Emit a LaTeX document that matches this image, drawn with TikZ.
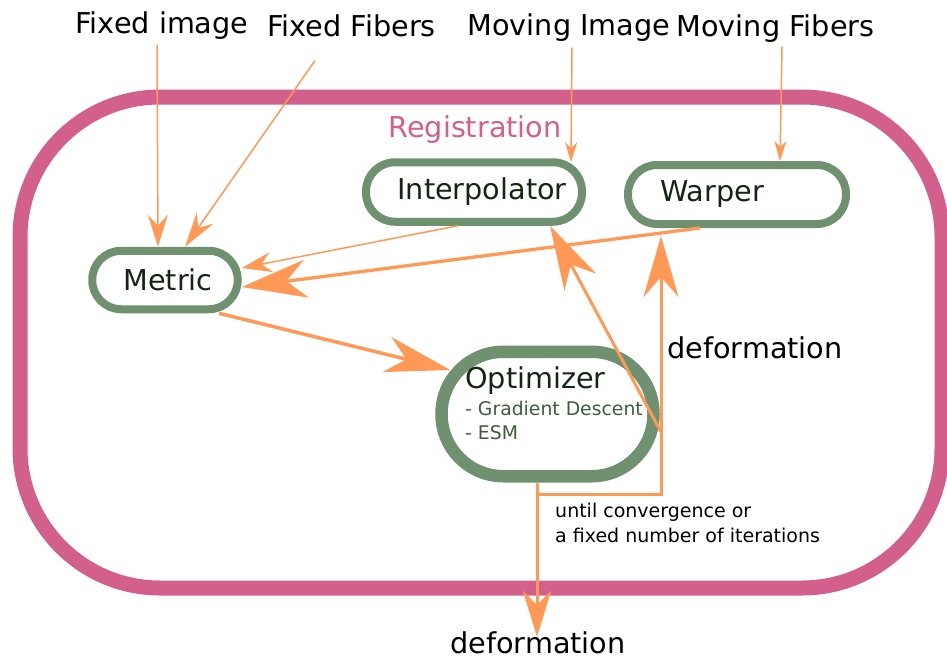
\documentclass[tikz,border=0pt]{standalone}
\usepackage{fontspec}
\setmainfont{DejaVu Sans}
\usetikzlibrary{arrows.meta,calc}
\definecolor{regpink}{HTML}{D35F8D}
\definecolor{boxgreen}{HTML}{6F916F}
\definecolor{arrorange}{HTML}{FF9955}
\definecolor{boxtext}{HTML}{132613}
\definecolor{subtext}{HTML}{3B5F3B}
\begin{document}
\begin{tikzpicture}[x=1pt,y=-1pt,
  lbl/.style={font=\fontsize{28.7}{34}\selectfont, inner sep=0pt, anchor=base},
  comp/.style={draw=boxgreen, line width=8pt, fill=white, rounded corners=29pt, inner sep=0pt, text=boxtext, font=\fontsize{28.7}{34}\selectfont},
  thinarrow/.style={draw=arrorange, line width=1.5pt},
  thickarrow/.style={draw=arrorange, line width=3pt},
]
\path[use as bounding box] (0,0) rectangle (947,659);
% registration frame
\draw[regpink, line width=15pt, rounded corners=140pt] (20,97) rectangle (942,588);
\node[lbl, text=regpink] (reg) at (475,137) {Registration};

% components
\node[comp, minimum width=216pt, minimum height=59.5pt] (interp) at (474,192) {\hspace*{16pt}Interpolator};
\node[comp, minimum width=218pt, minimum height=59pt] (warper) at (737,194.5) {Warper\hspace*{50pt}};
\node[comp, minimum width=145.5pt, minimum height=58.5pt] (metric) at (165,280) {\hspace*{6pt}Metric};
\node[comp, line width=12.5pt, rounded corners=62pt, minimum width=212pt, minimum height=124.5pt] (opt) at (547.5,414) {};
\node[anchor=base west, inner sep=0pt, text=boxtext, font=\fontsize{28.7}{34}\selectfont] (optname) at (465,388) {Optimizer};
\node[anchor=base west, inner sep=0pt, text=subtext, font=\fontsize{18.8}{24}\selectfont] (optgd) at (465,415) {- Gradient Descent};
\node[anchor=base west, inner sep=0pt, text=subtext, font=\fontsize{18.8}{24}\selectfont] (optesm) at (465,439) {- ESM};

% labels
\node[lbl] (fimg) at (162,33) {Fixed image};
\node[lbl] (ffib) at (351.5,36) {Fixed Fibers};
\node[lbl] (mimg) at (569,35) {Moving Image};
\node[lbl] (mfib) at (775.5,36) {Moving Fibers};
\node[lbl, anchor=base west] (defr) at (667,358) {deformation};
\node[lbl] (defb) at (538,653) {deformation};
\node[anchor=north west, inner sep=0pt, align=left, font=\fontsize{19}{25}\selectfont] (until) at (555,502.6) {until convergence or\\a fixed number of iterations};

% coordinates
\coordinate (ob) at ([xshift=-10.5pt]opt.south);
\coordinate (lp) at ([xshift=-76pt,yshift=-8pt]warper.south);

% inputs
\draw[thinarrow, -{Stealth[length=32pt,width=20pt,inset=11pt]}] ([xshift=-5pt,yshift=-5.5pt]fimg.south) -- ([xshift=-7pt]metric.north);
\draw[thinarrow, -{Stealth[length=35pt,width=20pt,inset=12pt]}] ([xshift=-36.5pt,yshift=-24pt]ffib.south) -- ([xshift=20pt]metric.north);
\draw[thinarrow, -{Stealth[length=20pt,width=12pt,inset=6pt]}] ([xshift=3pt,yshift=-6.5pt]mimg.south) -- ([xshift=97pt,yshift=-4pt]interp.north);
\draw[thinarrow, -{Stealth[length=20pt,width=12pt,inset=6pt]}] ([xshift=6.5pt,yshift=-4.5pt]mfib.south) -- ([xshift=43pt]warper.north);

% internal connectors
\draw[thinarrow, -{Stealth[length=30pt,width=20pt,inset=10pt]}] ([xshift=-16pt]interp.south) -- ([yshift=12pt]metric.east);
\draw[thickarrow, line width=3.3pt, -{Stealth[length=65pt,width=38pt,inset=20pt]}] ([xshift=-37pt]warper.south) -- ([yshift=-7pt]metric.east);
\draw[thickarrow, line width=3.5pt, -{Stealth[length=65pt,width=36pt,inset=20pt]}] ([xshift=54pt]metric.south) -- ([xshift=15pt,yshift=44pt]opt.west);
\draw[thickarrow, -{Stealth[length=61pt,width=35pt,inset=20pt]}] (ob) -- ++(0,11.5) -| (lp);
\draw[thickarrow, -{Stealth[length=64pt,width=36pt,inset=20pt]}] ($(lp |- opt.east)+(0,18)$) -- ([xshift=76pt]interp.south);
\draw[thickarrow, -{Stealth[length=46pt,width=28pt,inset=14pt]}] (ob) -- ($(ob |- defb.north)+(0,6)$);
\end{tikzpicture}
\end{document}
